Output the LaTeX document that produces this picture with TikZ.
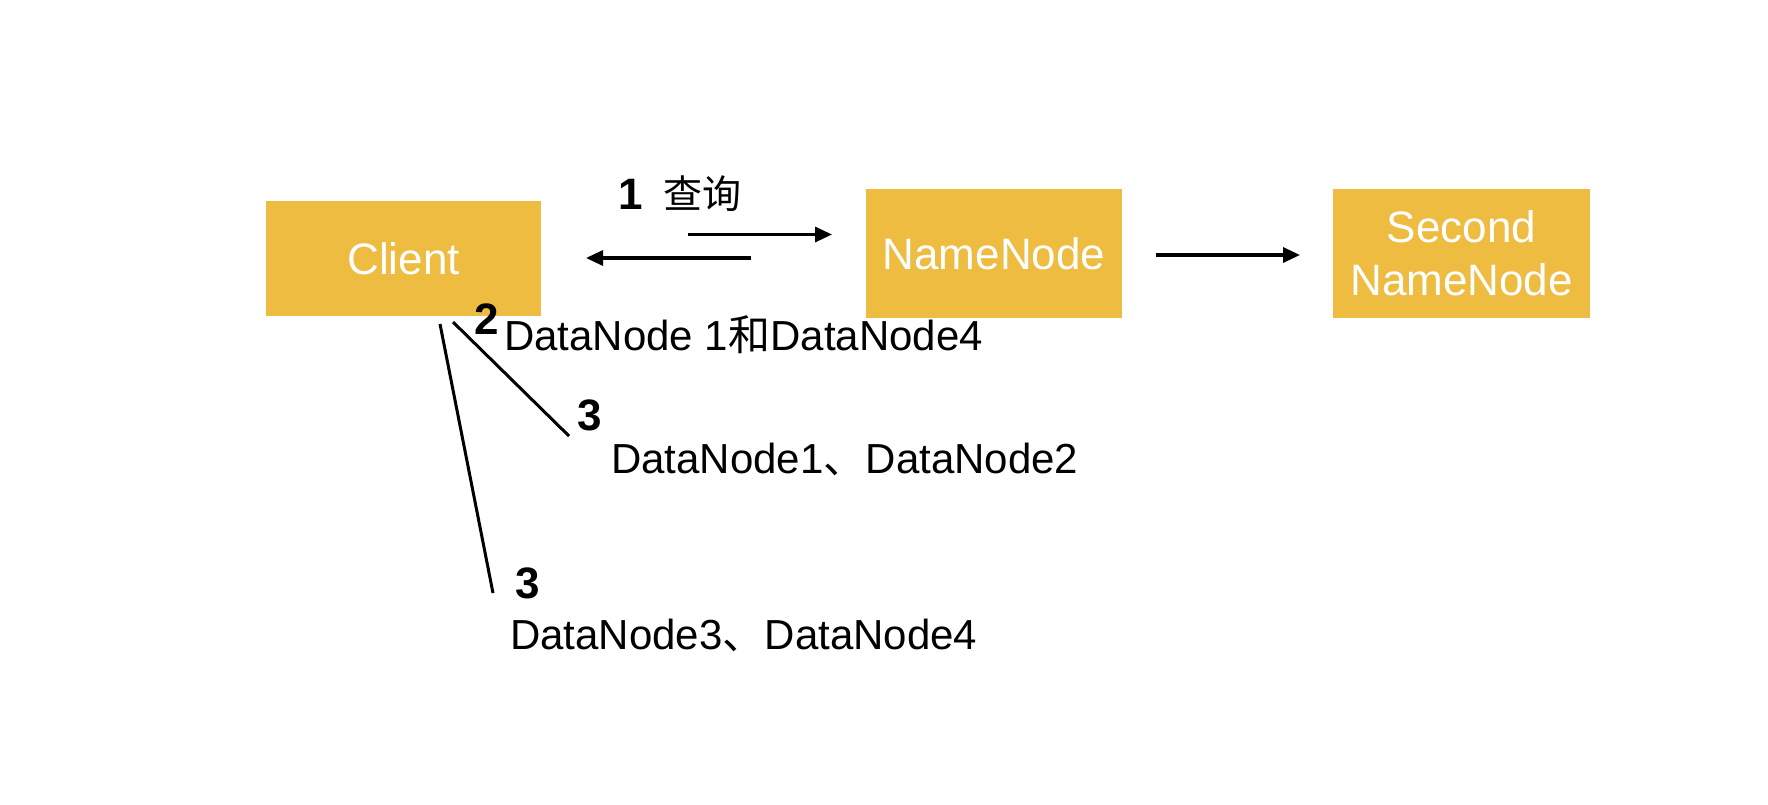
\documentclass[tikz,border=0pt]{standalone}
\usepackage{fontspec}
\setmainfont{Liberation Sans}
\newfontfamily\cjk{Noto Sans CJK SC}
\usetikzlibrary{arrows.meta}
\definecolor{boxgold}{RGB}{237,188,64}
\tikzset{
  box/.style={fill=boxgold, draw=none, minimum width=#1, text=white, font=\fontsize{44}{48}\selectfont, align=center, inner sep=0pt},
  arr/.style={line width=3.2pt, -{Triangle[length=17pt,width=15pt]}},
  conn/.style={line width=3pt},
  num/.style={font=\fontsize{44}{48}\selectfont\bfseries, inner sep=0pt},
  lbl/.style={font=\fontsize{42}{46}\selectfont, inner sep=0pt, anchor=west},
}
\begin{document}
\begin{tikzpicture}[x=1pt,y=-1pt]
\useasboundingbox (0,0) rectangle (1768,804);
\node[box=275pt, minimum height=115pt] (client) at (403.5,258.5) {Client};
\node[box=256pt, minimum height=129pt] (nn) at (994,253.5) {NameNode};
\node[box=257pt, minimum height=129pt] (snn) at (1461.5,253.5) {Second\\[5pt]NameNode};

\coordinate (r1) at (688,234.5);
\coordinate (r2) at (832,234.5);
\coordinate (l1) at (751,258);
\coordinate (l2) at (586,258);
\coordinate (s1) at (1156,255);
\coordinate (s2) at (1300,255);
\draw[arr] (r1) -- (r2);
\draw[arr] (l1) -- (l2);
\draw[arr] (s1) -- (s2);

\node[num] (n1) at (631,194) {1};
\node[lbl, font=\fontsize{39}{44}\cjk] (q) at (663,194) {查询};

\node[num] (n2) at (487,319) {2};
\node[lbl] (t2) at (504,335) {DataNode 1{\cjk 和}DataNode4};

\coordinate (a1) at (453,322);
\coordinate (a2) at (569,436);
\draw[conn] (a1) -- (a2);
\node[num] (n3a) at (590,415) {3};
\node[lbl] (t3a) at (611,459) {DataNode1{\cjk 、}DataNode2};

\coordinate (b1) at (440,324);
\coordinate (b2) at (493,593);
\draw[conn] (b1) -- (b2);
\node[num] (n3b) at (528,583) {3};
\node[lbl] (t3b) at (510,635) {DataNode3{\cjk 、}DataNode4};
\end{tikzpicture}
\end{document}
